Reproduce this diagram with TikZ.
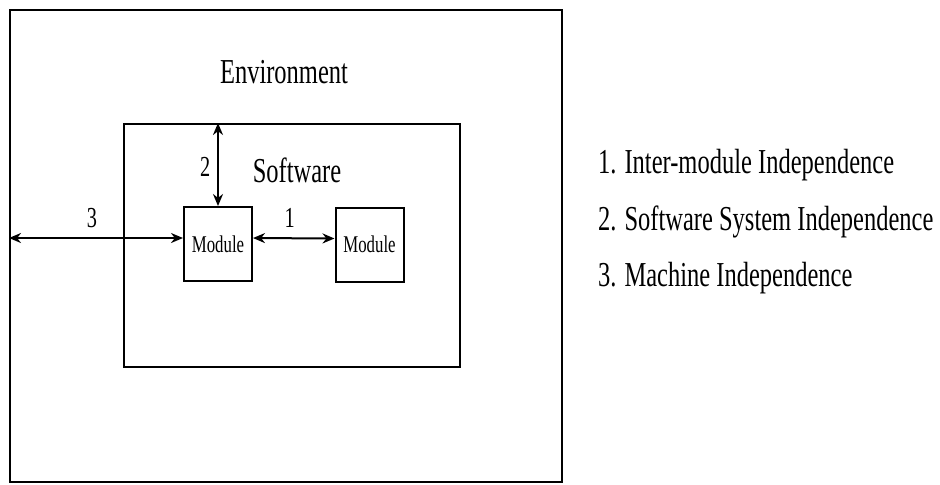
\documentclass[tikz,border=0pt]{standalone}
\usepackage{fontspec}
\setmainfont{Liberation Serif}[FakeStretch=0.7]
\usetikzlibrary{arrows.meta}
\tikzset{
  box/.style={draw, rectangle, line width=1pt, inner sep=0pt},
  modbox/.style={box, minimum width=34pt, minimum height=37pt, font=\fontsize{12}{14}\selectfont},
  numlabel/.style={font=\fontsize{14.5}{16}\selectfont},
  legend/.style={anchor=west, inner sep=0pt, font=\fontsize{17.5}{20}\selectfont}
}
\begin{document}
\begin{tikzpicture}[x=0.5pt, y=-0.5pt, >={Stealth[length=6pt,width=5pt]}, line width=1pt]
				\useasboundingbox (0,0) rectangle (940,484);
				\node[box, minimum width=276pt, minimum height=236pt]
				(env) at (286,246) {};
				\node[box, minimum width=168pt, minimum height=121.5pt]
				(sw) at (292,245.5) {};
				\node[font=\fontsize{17.5}{20}\selectfont] (envtitle) at (284,72) {Environment};
				\node[font=\fontsize{17.5}{20}\selectfont] (swtitle) at (297,170) {Software};
				\node[modbox] (m1) at (218,244) {Module};
				\node[modbox] (m2) at (369.5,244.5) {Module};
				\draw[<->] (m1.north) --
				node[numlabel, left, yshift=-1pt] {2}
				(m1.north |- sw.north);
				\draw[<->] ([yshift=3pt]m1.west -| env.west) --
				node[numlabel, above=1.5pt, xshift=-2pt] {3}
				([yshift=3pt]m1.west);
				\draw[<->] ([yshift=3pt]m1.east) --
				node[numlabel, above=1.5pt, xshift=-2pt] {1}
				([yshift=3pt]m2.west);
				\node[legend] (l1) at (597,165) {1. Inter-module Independence};
				\node[legend] (l2) at (597,222) {2. Software System Independence};
				\node[legend] (l3) at (597,278) {3. Machine Independence};
			\end{tikzpicture}
\end{document}
